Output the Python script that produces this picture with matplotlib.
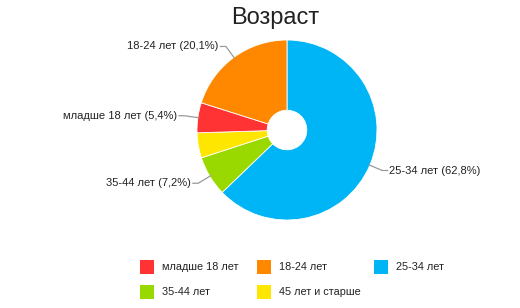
import numpy as np
import matplotlib
matplotlib.use('Agg')
import matplotlib.pyplot as plt
from matplotlib.patches import Rectangle

# data, in drawing order (clockwise from the top)
categories = ['25-34 лет', '35-44 лет', '45 лет и старше', 'младше 18 лет', '18-24 лет']
shares = [62.8, 7.2, 4.5, 5.4, 20.1]
colors = ['#00B5F5', '#99D900', '#FFE600', '#FF3333', '#FF8800']
labelled = ['25-34 лет', '35-44 лет', 'младше 18 лет', '18-24 лет']
legend_order = ['младше 18 лет', '18-24 лет', '25-34 лет', '35-44 лет', '45 лет и старше']

plt.rcParams['font.family'] = ['Liberation Sans', 'DejaVu Sans']

W, H = 520, 308
fig = plt.figure(figsize=(W / 100, H / 100), dpi=100)

cx, cy, r = 287, 130, 90
ax = fig.add_axes([(cx - r) / W, (H - cy - r) / H, 2 * r / W, 2 * r / H])

wedges, _ = ax.pie(shares, colors=colors, startangle=90, counterclock=False,
                   radius=1, wedgeprops=dict(width=0.78, edgecolor='white', linewidth=0.6))
ax.set_xlim(-1, 1)
ax.set_ylim(-1, 1)
ax.set_aspect('equal')
ax.axis('off')

# labels with leader lines
for w, name, val in zip(wedges, categories, shares):
    if name not in labelled:
        continue
    ang = np.deg2rad((w.theta1 + w.theta2) / 2)
    x0, y0 = np.cos(ang), np.sin(ang)
    x1, y1 = 1.15 * x0, 1.15 * y0
    side = 1 if x0 > 0 else -1
    x2 = x1 + side * 0.06
    ax.plot([x0 * 0.99, x1, x2], [y0 * 0.99, y1, y1], color='#999999', lw=0.9,
            clip_on=False)
    txt = f'{name} ({val:.1f}%)'.replace('.', ',')
    ax.text(x2 + side * 0.02, y1, txt, ha='left' if side > 0 else 'right',
            va='center', fontsize=8, color='#222222', clip_on=False)

fig.text(275 / W, 1 - 18 / H, 'Возраст', ha='center', va='center',
         fontsize=17, color='#222222')

# legend
col_x = [140, 257, 374]
row_y = [267, 292]
cmap = dict(zip(categories, colors))
for i, name in enumerate(legend_order):
    x = col_x[i % 3]
    y = row_y[i // 3]
    fig.patches.append(Rectangle((x / W, 1 - (y + 7) / H), 14 / W, 14 / H,
                                 transform=fig.transFigure, facecolor=cmap[name],
                                 edgecolor='none'))
    fig.text((x + 22) / W, 1 - y / H, name, ha='left', va='center',
             fontsize=7.8, color='#222222')

fig.savefig('out.png', dpi=100)
